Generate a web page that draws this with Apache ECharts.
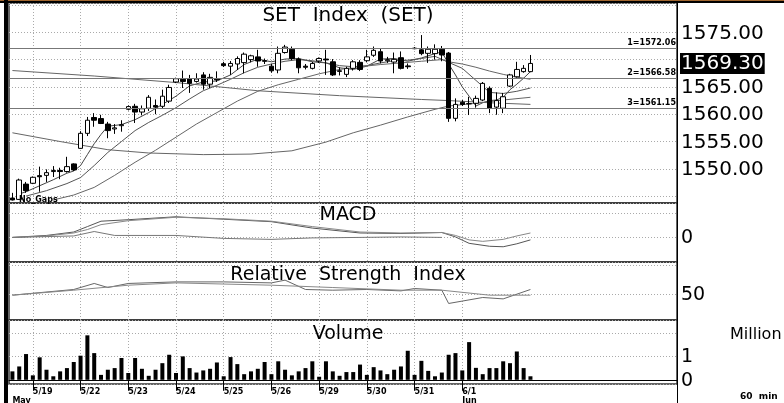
<!DOCTYPE html>
<html>
<head>
<meta charset="utf-8">
<title>SET Index (SET) 60 min</title>
<script src="https://cdn.jsdelivr.net/npm/echarts@6/dist/echarts.min.js"></script>
<style>
html,body{margin:0;padding:0;background:#fff;}
#main{width:784px;height:403px;}
</style>
</head>
<body>
<div id="main"></div>
<script>
// 60 min bars, slot 0 = first bar on the left
var slotCount = 98;   // axis keeps empty room on the right
var dayStart  = [3, 10, 17, 24, 31, 38, 45, 52, 59, 66];
var dayLabels = ['5/19', '5/22', '5/23', '5/24', '5/25', '5/26', '5/29', '5/30', '5/31', '6/1'];
var monthAt   = {0: 'May', 66: 'Jun'};

var open = [1544.65,1544.4,1547.2,1547.35,1548.75,1548.8,1549.5,1549.7,1549.5,1550.9,
  1553.75,1556.5,1559.4,1559.2,1558.2,1557.3,1557.9,1560.9,1561.45,1560.4,
  1561.1,1561.6,1561.45,1562.4,1565.9,1566.4,1566.5,1566.0,1567.2,1565.5,
  1566.5,1569.25,1568.8,1569.2,1569.45,1570.0,1570.5,1569.8,1568.8,1568.1,
  1571.3,1571.9,1570.1,1568.8,1568.4,1569.75,1570.1,1569.6,1567.95,1567.3,
  1568.4,1569.5,1569.8,1570.8,1571.45,1569.8,1569.55,1570.35,1568.85,1572.1,
  1571.8,1571.15,1571.1,1571.9,1571.2,1559.25,1562.2,1561.9,1562.0,1562.6,
  1564.75,1561.3,1561.1,1565.15,1566.85,1567.8,1567.8];
var close = [1544.3,1547.95,1546.0,1548.45,1548.55,1549.3,1549.7,1549.5,1550.4,1549.8,
  1556.5,1558.9,1558.9,1558.3,1557.0,1557.5,1558.1,1561.4,1560.4,1561.0,
  1563.1,1561.3,1563.3,1564.9,1566.5,1566.0,1565.65,1566.45,1565.5,1566.75,
  1566.3,1568.9,1569.3,1570.2,1571.0,1570.7,1569.75,1569.7,1567.95,1571.15,
  1572.3,1570.2,1568.5,1568.6,1569.3,1570.2,1569.95,1567.2,1567.85,1568.4,
  1569.6,1568.2,1570.5,1571.7,1569.75,1570.0,1570.05,1568.4,1568.7,1572.0,
  1571.1,1571.9,1571.9,1570.85,1559.25,1561.8,1561.8,1561.95,1562.9,1565.65,
  1561.1,1562.5,1563.2,1567.2,1568.2,1568.4,1569.3];
var low = [1544.2,1544.3,1545.6,1547.2,1545.8,1547.6,1548.5,1548.1,1549.3,1549.6,
  1553.7,1556.0,1557.7,1558.2,1555.6,1556.4,1556.8,1560.7,1558.4,1559.8,
  1560.6,1560.0,1561.0,1562.05,1565.7,1564.8,1563.9,1565.8,1564.5,1564.8,
  1565.9,1568.65,1567.2,1568.1,1567.5,1569.5,1568.7,1569.2,1567.6,1567.5,
  1571.1,1569.9,1567.5,1568.2,1568.2,1569.4,1567.2,1567.0,1567.1,1566.8,
  1568.0,1567.9,1569.5,1570.5,1569.3,1569.4,1567.5,1568.2,1568.3,1571.9,
  1570.8,1569.4,1570.0,1569.7,1558.6,1558.7,1561.5,1559.85,1561.2,1562.4,
  1560.2,1559.9,1560.2,1565.0,1566.7,1567.6,1567.7];
var high = [1545.6,1548.2,1547.6,1548.6,1550.4,1549.9,1550.5,1550.2,1552.2,1551.0,
  1556.9,1559.5,1560.2,1559.9,1558.6,1558.2,1558.9,1561.6,1561.9,1561.6,
  1563.5,1562.7,1564.5,1565.4,1566.7,1568.0,1567.2,1567.5,1567.7,1567.4,
  1567.85,1569.6,1569.75,1570.6,1571.3,1570.9,1571.8,1570.2,1569.2,1572.4,
  1572.7,1572.4,1570.4,1569.2,1569.6,1570.4,1571.8,1570.1,1568.6,1568.7,
  1569.9,1569.9,1571.8,1572.4,1572.1,1570.5,1571.3,1571.5,1569.3,1572.3,
  1574.5,1572.4,1572.8,1572.5,1571.4,1562.9,1562.6,1563.2,1563.4,1565.9,
  1565.1,1564.0,1563.9,1567.4,1569.6,1569.0,1570.85];
// volume, million shares
var volume = [0.36,0.57,1.10,0.19,0.96,0.43,0.15,0.36,0.50,0.76,
  1.03,1.90,1.14,0.21,0.43,0.50,0.93,0.29,0.93,0.47,
  0.17,0.43,0.71,1.07,0.29,1.00,0.50,0.31,0.40,0.47,
  0.74,0.15,0.97,0.67,0.24,0.36,0.47,0.76,0.24,0.79,
  0.43,0.19,0.36,0.50,0.79,0.13,0.79,0.36,0.17,0.33,
  0.33,0.65,0.21,0.54,0.40,0.24,0.43,0.57,1.24,0.21,
  0.81,0.38,0.15,0.31,1.07,1.14,0.40,1.61,0.51,0.24,
  0.50,0.50,0.79,0.71,1.21,0.50,0.15];

// moving averages as [slot, value]
var ma5 = [[1,1545.4],[2,1545.8],[4,1546.9],[6,1548.0],[8,1549.2],[9,1549.6],[10,1550.6],[11,1552.6],
  [12,1554.6],[13,1556.3],[14,1557.8],[16,1558.1],[18,1559.0],[20,1560.3],[22,1561.8],[24,1563.3],
  [26,1565.2],[28,1565.9],[30,1566.1],[32,1567.2],[34,1569.1],[36,1570.1],[38,1569.6],[40,1570.1],
  [42,1570.2],[44,1569.6],[46,1569.4],[48,1568.5],[50,1568.2],[52,1568.8],[54,1570.1],[56,1570.2],
  [58,1569.7],[60,1570.3],[62,1571.1],[63,1571.4],[64,1569.2],[65,1567.2],[66,1565.0],[67,1563.3],
  [68,1561.5],[69,1562.1],[70,1562.5],[71,1562.6],[72,1563.1],[73,1564.5],[74,1565.5],[75,1566.6],[76,1567.8]];
var ma10 = [[2,1545.0],[5,1546.0],[8,1547.3],[10,1548.4],[12,1550.6],[14,1553.0],[16,1555.0],[18,1557.0],
  [20,1558.5],[22,1559.8],[24,1561.2],[26,1562.8],[28,1564.3],[30,1565.3],[32,1566.4],[34,1567.6],
  [36,1568.6],[38,1569.2],[40,1569.7],[42,1570.0],[44,1569.8],[46,1569.4],[48,1568.9],[50,1568.7],
  [52,1568.9],[54,1569.4],[56,1569.8],[58,1569.9],[60,1570.2],[62,1570.6],[64,1569.5],[66,1568.4],
  [68,1566.2],[70,1564.0],[72,1563.8],[74,1564.2],[76,1564.8]];
var ma25 = [[6,1544.3],[9,1545.2],[12,1546.6],[15,1548.8],[18,1551.2],[21,1553.4],[24,1555.8],[27,1558.2],
  [30,1560.3],[33,1562.4],[36,1564.2],[39,1565.4],[42,1566.4],[45,1567.4],[48,1568.2],[51,1568.7],
  [54,1569.1],[57,1569.4],[60,1569.7],[63,1570.0],[64,1569.6],[66,1569.2],[68,1568.6],[70,1567.9],
  [72,1567.3],[74,1566.8],[76,1566.4]];
var ma75 = [[0,1556.6],[7,1555.0],[14,1553.5],[20,1552.9],[28,1552.6],[35,1552.7],[41,1553.3],[46,1554.9],
  [50,1556.6],[54,1558.0],[58,1559.5],[62,1560.9],[64,1561.5],[68,1562.0],[72,1562.6],[76,1563.1]];
var ma200 = [[0,1568.0],[12,1567.0],[24,1565.8],[36,1564.3],[48,1563.4],[60,1562.7],[64,1562.5],[70,1562.1],[76,1561.8]];

var levels = [1572.06, 1566.58, 1561.15];

var macd   = [[0,0.0],[5,0.4],[9,1.1],[11,2.2],[13,3.3],[17,3.6],[24,4.2],[31,3.7],[38,3.2],[44,1.9],
  [51,0.9],[57,0.8],[63,1.0],[65,0.1],[67,-1.2],[70,-1.8],[72,-1.9],[74,-1.3],[76,-0.5]];
var signal = [[0,0.0],[5,0.3],[9,0.9],[11,1.6],[13,2.6],[17,3.4],[24,4.1],[31,3.8],[38,3.3],[44,2.2],
  [51,1.1],[57,0.9],[63,1.0],[65,0.4],[67,-0.5],[69,-0.8],[72,-0.4],[74,0.3],[76,0.9]];
var osc    = [[0,0.0],[9,0.3],[12,1.2],[15,0.4],[24,0.4],[31,-0.2],[38,-0.4],[44,-0.1],[51,0.0],[57,0.1],[63,0.0]];

var rsi    = [[0,48.8],[9,58.6],[12,69],[14,62],[17,69],[24,71.7],[31,71.7],[38,70],[40,74.7],[43,58.6],
  [47,57.4],[52,58.6],[57,56.2],[59,60.3],[63,57.4],[64,34.5],[69,44.8],[72,42.4],[76,58.6]];
var rsiAvg = [[0,48.8],[9,57.4],[17,66],[24,70],[38,66],[47,62],[57,57.4],[63,57.4],[70,48.8],[76,48.8]];

var slots = [];
for (var s = 0; s < slotCount; s++) slots.push(String(s));

var candles = open.map(function (o, i) { return [o, close[i], low[i], high[i]]; });
var lastClose = close[close.length - 1];

var FONT = 'DejaVu Sans';

function isDay(idx) { return dayStart.indexOf(idx) >= 0; }

// panes share the same x span; outer bounds off so labels don't squeeze them
function pane(top, height) {
  return {left: 9, right: 107, top: top, height: height, outerBoundsMode: 'none', containLabel: false,
    show: true, borderColor: '#333', borderWidth: 1.5};
}

function xAxisFor(g, withLabels) {
  return {
    type: 'category', gridIndex: g, data: slots, boundaryGap: true,
    axisLine: {show: withLabels, lineStyle: {color: '#000'}},
    axisTick: {show: withLabels, interval: function (i) { return isDay(i); }, alignWithLabel: true, length: 11, lineStyle: {color: '#000'}},
    axisLabel: {
      show: withLabels, interval: function (i) { return isDay(i) || i === 0; },
      align: 'left', margin: 3, fontSize: 8, fontWeight: 'bold', color: '#000', lineHeight: 9, fontFamily: FONT,
      formatter: function (v, i) {
        var k = dayStart.indexOf(i);
        var t = k >= 0 ? dayLabels[k] : ' ';
        return monthAt[i] ? t + '\n' + monthAt[i] : t;
      }
    },
    splitLine: {show: true, alignWithLabel: true, interval: function (i) { return isDay(i); },
      lineStyle: {color: '#aaa', type: [1, 2], width: 1}}
  };
}

// labels sit on a 2px line box so the digits centre on their tick
function yAxisFor(g, min, max, split, size, show) {
  return {
    type: 'value', gridIndex: g, position: 'right', min: min, max: max, splitNumber: split, scale: true,
    axisLine: {show: true, lineStyle: {color: '#000'}},
    axisTick: {show: false},
    axisLabel: {margin: 4, fontSize: size, color: '#000', fontFamily: FONT,
      verticalAlign: 'top', lineHeight: 2,
      formatter: function (v) { return show(v); }},
    splitLine: {show: true, lineStyle: {color: '#aaa', type: [1, 2], width: 1}}
  };
}

function maLine(data, color) {
  return {type: 'line', xAxisIndex: 0, yAxisIndex: 0, data: data, symbol: 'none',
    lineStyle: {color: color, width: 1}, silent: true, z: 1};
}

var chart = echarts.init(document.getElementById('main'));
chart.setOption({
  animation: false,
  backgroundColor: '#fff',
  textStyle: {fontFamily: FONT},
  title: [
    {text: 'SET  Index  (SET)', left: 343, top: 1, textAlign: 'center', textStyle: {fontSize: 20, fontWeight: 'normal', color: '#000'}},
    {text: 'MACD', left: 343, top: 201, textAlign: 'center', textStyle: {fontSize: 19, fontWeight: 'normal', color: '#000'}},
    {text: 'Relative  Strength  Index', left: 343, top: 261, textAlign: 'center', textStyle: {fontSize: 19, fontWeight: 'normal', color: '#000'}},
    {text: 'Volume', left: 343, top: 320, textAlign: 'center', textStyle: {fontSize: 19, fontWeight: 'normal', color: '#000'}},
    {text: 'Million', left: 725, top: 322, textStyle: {fontSize: 16, fontWeight: 'normal', color: '#000'}},
    {text: 'No_Gaps', left: 14, top: 191, textStyle: {fontSize: 8, fontWeight: 'bold', color: '#000'}},
    {text: '60  min', left: 735, top: 387, textStyle: {fontSize: 9, fontWeight: 'bold', color: '#000'}}
  ],
  grid: [pane(3, 200), pane(203, 59), pane(262, 58), pane(320, 64)],
  xAxis: [xAxisFor(0, false), xAxisFor(1, false), xAxisFor(2, false), xAxisFor(3, true)],
  yAxis: [
    yAxisFor(0, 1543.74, 1580.37, 7, 20, function (v) { return (v >= 1550 && v <= 1575 && v !== 1570 && v % 5 === 0) ? v.toFixed(2) : ''; }),
    yAxisFor(1, -5, 7, 2, 19, function (v) { return v === 0 ? '0' : ''; }),
    yAxisFor(2, 6, 106, 2, 19, function (v) { return v === 50 ? '50' : ''; }),
    yAxisFor(3, -0.18, 2.555, 3, 19, function (v) { return (v === 0 || v === 1) ? String(v) : ''; })
  ],
  graphic: [
    {type: 'rect', shape: {x: 0, y: 0, width: 784, height: 1}, style: {fill: '#a0652e'}},
    {type: 'rect', shape: {x: 0, y: 1, width: 784, height: 2}, style: {fill: '#000'}},
    {type: 'rect', shape: {x: 4, y: 0, width: 4, height: 403}, style: {fill: '#000'}},
    {type: 'line', shape: {x1: 677.5, y1: 384, x2: 677.5, y2: 403}, style: {stroke: '#000', lineWidth: 1}}
  ],
  series: [
    {
      type: 'candlestick', xAxisIndex: 0, yAxisIndex: 0, data: candles, barWidth: 5, z: 3,
      itemStyle: {color: '#fff', color0: '#000', borderColor: '#000', borderColor0: '#000', borderWidth: 1},
      markLine: {
        silent: true, symbol: ['none', 'none'],
        lineStyle: {color: '#777', width: 1, type: 'solid'},
        label: {position: 'insideEndTop', distance: 1, fontSize: 8, fontWeight: 'bold', color: '#000', fontFamily: FONT},
        data: levels.map(function (v, k) {
          return {yAxis: v, label: {formatter: (k + 1) + '=' + v.toFixed(2)}};
        }).concat([{
          yAxis: lastClose, lineStyle: {color: 'rgba(0,0,0,0)', width: 0},
          label: {position: 'end', distance: 3, formatter: lastClose.toFixed(2), fontSize: 20, fontWeight: 'normal',
            color: '#fff', backgroundColor: '#000', padding: [1, 1, 0, 1]}
        }])
      }
    },
    maLine(ma5, '#444'), maLine(ma10, '#555'), maLine(ma25, '#666'), maLine(ma75, '#666'), maLine(ma200, '#666'),
    {type: 'line', xAxisIndex: 1, yAxisIndex: 1, data: macd, symbol: 'none', lineStyle: {color: '#555', width: 1}},
    {type: 'line', xAxisIndex: 1, yAxisIndex: 1, data: signal, symbol: 'none', lineStyle: {color: '#888', width: 1}},
    {type: 'line', xAxisIndex: 1, yAxisIndex: 1, data: osc, symbol: 'none', lineStyle: {color: '#777', width: 1}},
    {type: 'line', xAxisIndex: 2, yAxisIndex: 2, data: rsi, symbol: 'none', lineStyle: {color: '#666', width: 1}},
    {type: 'line', xAxisIndex: 2, yAxisIndex: 2, data: rsiAvg, symbol: 'none', lineStyle: {color: '#888', width: 1}},
    {type: 'bar', xAxisIndex: 3, yAxisIndex: 3, data: volume, barWidth: 4, itemStyle: {color: '#000'}}
  ]
});
</script>
</body>
</html>
